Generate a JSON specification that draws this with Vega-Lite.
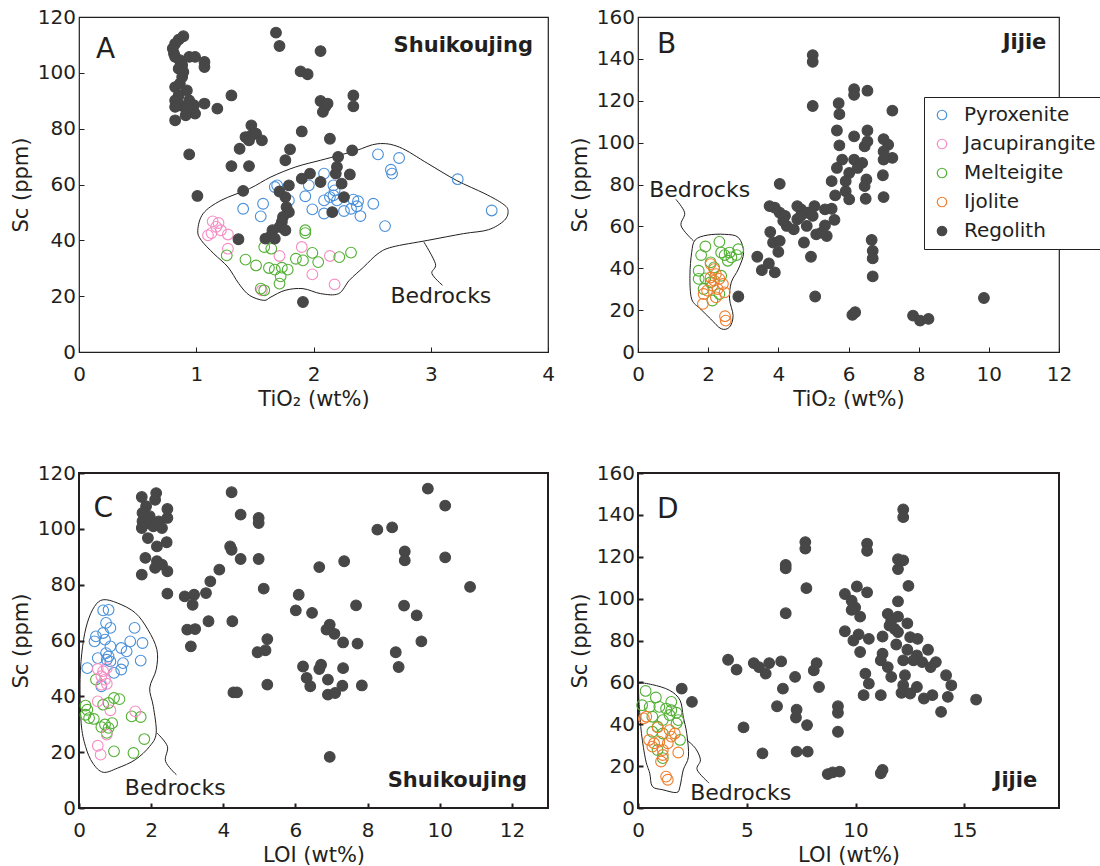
{
"$schema": "https://vega.github.io/schema/vega-lite/v6.json",
"autosize": {"type": "pad"},
"padding": {"left": 9, "top": 6, "right": 0, "bottom": 0},
"background": "white",
"datasets": {
"pts": [
{"p":"A","rock":"Pyroxenite","x":2.55,"y":70.8},{"p":"A","rock":"Pyroxenite","x":2.73,"y":69.5},{"p":"A","rock":"Pyroxenite","x":2.66,"y":65.3},{"p":"A","rock":"Pyroxenite","x":2.67,"y":63.9},{"p":"A","rock":"Pyroxenite","x":3.23,"y":61.9},{"p":"A","rock":"Pyroxenite","x":3.52,"y":50.7},{"p":"A","rock":"Pyroxenite","x":2.61,"y":45.1},{"p":"A","rock":"Pyroxenite","x":2.51,"y":53.1},{"p":"A","rock":"Pyroxenite","x":2.40,"y":48.7},{"p":"A","rock":"Pyroxenite","x":2.38,"y":54.0},{"p":"A","rock":"Pyroxenite","x":2.34,"y":54.6},{"p":"A","rock":"Pyroxenite","x":2.32,"y":51.3},{"p":"A","rock":"Pyroxenite","x":2.26,"y":50.5},{"p":"A","rock":"Pyroxenite","x":2.20,"y":54.3},{"p":"A","rock":"Pyroxenite","x":2.17,"y":56.1},{"p":"A","rock":"Pyroxenite","x":2.18,"y":57.9},{"p":"A","rock":"Pyroxenite","x":2.17,"y":59.7},{"p":"A","rock":"Pyroxenite","x":2.14,"y":55.5},{"p":"A","rock":"Pyroxenite","x":2.09,"y":54.3},{"p":"A","rock":"Pyroxenite","x":2.09,"y":49.6},{"p":"A","rock":"Pyroxenite","x":2.09,"y":63.9},{"p":"A","rock":"Pyroxenite","x":1.99,"y":51.1},{"p":"A","rock":"Pyroxenite","x":1.93,"y":55.8},{"p":"A","rock":"Pyroxenite","x":1.96,"y":59.7},{"p":"A","rock":"Pyroxenite","x":1.67,"y":59.1},{"p":"A","rock":"Pyroxenite","x":1.69,"y":59.7},{"p":"A","rock":"Pyroxenite","x":1.57,"y":53.1},{"p":"A","rock":"Pyroxenite","x":1.55,"y":48.6},{"p":"A","rock":"Pyroxenite","x":1.40,"y":51.3},{"p":"A","rock":"Pyroxenite","x":1.79,"y":54.3},{"p":"A","rock":"Pyroxenite","x":2.37,"y":52.2},
{"p":"A","rock":"Jacupirangite","x":1.14,"y":46.8},{"p":"A","rock":"Jacupirangite","x":1.19,"y":46.2},{"p":"A","rock":"Jacupirangite","x":1.17,"y":44.8},{"p":"A","rock":"Jacupirangite","x":1.21,"y":43.6},{"p":"A","rock":"Jacupirangite","x":1.13,"y":42.6},{"p":"A","rock":"Jacupirangite","x":1.10,"y":41.8},{"p":"A","rock":"Jacupirangite","x":1.27,"y":42.1},{"p":"A","rock":"Jacupirangite","x":1.27,"y":37.0},{"p":"A","rock":"Jacupirangite","x":1.71,"y":34.4},{"p":"A","rock":"Jacupirangite","x":1.90,"y":37.6},{"p":"A","rock":"Jacupirangite","x":2.14,"y":34.4},{"p":"A","rock":"Jacupirangite","x":1.99,"y":27.8},{"p":"A","rock":"Jacupirangite","x":2.18,"y":24.2},{"p":"A","rock":"Jacupirangite","x":1.56,"y":22.1},
{"p":"A","rock":"Melteigite","x":1.26,"y":34.6},{"p":"A","rock":"Melteigite","x":1.42,"y":33.1},{"p":"A","rock":"Melteigite","x":1.51,"y":31.0},{"p":"A","rock":"Melteigite","x":1.58,"y":37.6},{"p":"A","rock":"Melteigite","x":1.64,"y":37.0},{"p":"A","rock":"Melteigite","x":1.62,"y":30.1},{"p":"A","rock":"Melteigite","x":1.67,"y":29.5},{"p":"A","rock":"Melteigite","x":1.73,"y":30.2},{"p":"A","rock":"Melteigite","x":1.78,"y":29.5},{"p":"A","rock":"Melteigite","x":1.72,"y":27.1},{"p":"A","rock":"Melteigite","x":1.71,"y":24.5},{"p":"A","rock":"Melteigite","x":1.85,"y":33.4},{"p":"A","rock":"Melteigite","x":1.91,"y":32.8},{"p":"A","rock":"Melteigite","x":1.93,"y":43.6},{"p":"A","rock":"Melteigite","x":1.93,"y":42.6},{"p":"A","rock":"Melteigite","x":1.99,"y":35.5},{"p":"A","rock":"Melteigite","x":2.04,"y":32.2},{"p":"A","rock":"Melteigite","x":2.22,"y":34.0},{"p":"A","rock":"Melteigite","x":2.32,"y":35.6},{"p":"A","rock":"Melteigite","x":1.55,"y":22.7},{"p":"A","rock":"Melteigite","x":1.58,"y":22.1},
{"p":"A","rock":"Regolith","x":0.89,"y":113.1},{"p":"A","rock":"Regolith","x":0.85,"y":111.9},{"p":"A","rock":"Regolith","x":0.82,"y":110.4},{"p":"A","rock":"Regolith","x":0.80,"y":108.7},{"p":"A","rock":"Regolith","x":0.81,"y":106.9},{"p":"A","rock":"Regolith","x":0.82,"y":105.7},{"p":"A","rock":"Regolith","x":0.86,"y":104.5},{"p":"A","rock":"Regolith","x":0.88,"y":102.7},{"p":"A","rock":"Regolith","x":0.85,"y":101.5},{"p":"A","rock":"Regolith","x":0.89,"y":100.3},{"p":"A","rock":"Regolith","x":0.94,"y":105.7},{"p":"A","rock":"Regolith","x":0.99,"y":105.7},{"p":"A","rock":"Regolith","x":1.07,"y":103.9},{"p":"A","rock":"Regolith","x":1.07,"y":102.1},{"p":"A","rock":"Regolith","x":0.82,"y":94.9},{"p":"A","rock":"Regolith","x":0.92,"y":93.7},{"p":"A","rock":"Regolith","x":0.85,"y":91.9},{"p":"A","rock":"Regolith","x":0.82,"y":90.1},{"p":"A","rock":"Regolith","x":0.86,"y":88.4},{"p":"A","rock":"Regolith","x":0.91,"y":87.2},{"p":"A","rock":"Regolith","x":0.82,"y":87.8},{"p":"A","rock":"Regolith","x":0.98,"y":88.4},{"p":"A","rock":"Regolith","x":1.07,"y":89.0},{"p":"A","rock":"Regolith","x":0.99,"y":85.4},{"p":"A","rock":"Regolith","x":0.91,"y":84.8},{"p":"A","rock":"Regolith","x":0.82,"y":83.0},{"p":"A","rock":"Regolith","x":0.86,"y":96.1},{"p":"A","rock":"Regolith","x":0.88,"y":98.5},{"p":"A","rock":"Regolith","x":0.94,"y":90.1},{"p":"A","rock":"Regolith","x":1.18,"y":87.2},{"p":"A","rock":"Regolith","x":1.30,"y":91.9},{"p":"A","rock":"Regolith","x":0.94,"y":70.8},{"p":"A","rock":"Regolith","x":1.01,"y":55.9},{"p":"A","rock":"Regolith","x":1.68,"y":114.4},{"p":"A","rock":"Regolith","x":1.71,"y":109.6},{"p":"A","rock":"Regolith","x":2.06,"y":107.8},{"p":"A","rock":"Regolith","x":1.89,"y":100.5},{"p":"A","rock":"Regolith","x":1.95,"y":99.5},{"p":"A","rock":"Regolith","x":2.06,"y":89.9},{"p":"A","rock":"Regolith","x":2.10,"y":87.8},{"p":"A","rock":"Regolith","x":2.12,"y":89.0},{"p":"A","rock":"Regolith","x":2.08,"y":86.0},{"p":"A","rock":"Regolith","x":2.34,"y":91.9},{"p":"A","rock":"Regolith","x":2.34,"y":88.0},{"p":"A","rock":"Regolith","x":1.47,"y":81.2},{"p":"A","rock":"Regolith","x":1.42,"y":77.0},{"p":"A","rock":"Regolith","x":1.47,"y":77.6},{"p":"A","rock":"Regolith","x":1.51,"y":78.2},{"p":"A","rock":"Regolith","x":1.56,"y":75.8},{"p":"A","rock":"Regolith","x":1.45,"y":75.8},{"p":"A","rock":"Regolith","x":1.37,"y":72.8},{"p":"A","rock":"Regolith","x":1.30,"y":66.6},{"p":"A","rock":"Regolith","x":1.45,"y":66.6},{"p":"A","rock":"Regolith","x":1.40,"y":57.7},{"p":"A","rock":"Regolith","x":1.36,"y":40.4},{"p":"A","rock":"Regolith","x":1.90,"y":79.0},{"p":"A","rock":"Regolith","x":1.80,"y":72.6},{"p":"A","rock":"Regolith","x":1.76,"y":68.7},{"p":"A","rock":"Regolith","x":2.14,"y":76.4},{"p":"A","rock":"Regolith","x":2.33,"y":72.2},{"p":"A","rock":"Regolith","x":2.21,"y":69.9},{"p":"A","rock":"Regolith","x":2.20,"y":66.3},{"p":"A","rock":"Regolith","x":2.31,"y":63.6},{"p":"A","rock":"Regolith","x":2.19,"y":63.9},{"p":"A","rock":"Regolith","x":2.06,"y":60.9},{"p":"A","rock":"Regolith","x":1.97,"y":63.9},{"p":"A","rock":"Regolith","x":1.90,"y":62.1},{"p":"A","rock":"Regolith","x":2.24,"y":60.3},{"p":"A","rock":"Regolith","x":2.26,"y":55.5},{"p":"A","rock":"Regolith","x":2.16,"y":50.1},{"p":"A","rock":"Regolith","x":1.91,"y":17.9},{"p":"A","rock":"Regolith","x":1.79,"y":59.7},{"p":"A","rock":"Regolith","x":1.76,"y":55.5},{"p":"A","rock":"Regolith","x":1.77,"y":51.9},{"p":"A","rock":"Regolith","x":1.79,"y":50.1},{"p":"A","rock":"Regolith","x":1.74,"y":48.4},{"p":"A","rock":"Regolith","x":1.73,"y":46.6},{"p":"A","rock":"Regolith","x":1.71,"y":44.8},{"p":"A","rock":"Regolith","x":1.65,"y":43.6},{"p":"A","rock":"Regolith","x":1.64,"y":41.8},{"p":"A","rock":"Regolith","x":1.59,"y":40.6},{"p":"A","rock":"Regolith","x":1.67,"y":40.6},{"p":"A","rock":"Regolith","x":1.76,"y":43.6},{"p":"A","rock":"Regolith","x":1.71,"y":57.5},
{"p":"B","rock":"Melteigite","x":2.32,"y":52.6},{"p":"B","rock":"Melteigite","x":1.92,"y":50.4},{"p":"B","rock":"Melteigite","x":1.80,"y":46.3},{"p":"B","rock":"Melteigite","x":2.37,"y":47.5},{"p":"B","rock":"Melteigite","x":2.47,"y":46.3},{"p":"B","rock":"Melteigite","x":2.61,"y":47.5},{"p":"B","rock":"Melteigite","x":2.66,"y":45.2},{"p":"B","rock":"Melteigite","x":2.81,"y":46.3},{"p":"B","rock":"Melteigite","x":2.86,"y":49.1},{"p":"B","rock":"Melteigite","x":2.56,"y":43.6},{"p":"B","rock":"Melteigite","x":1.73,"y":38.8},{"p":"B","rock":"Melteigite","x":2.07,"y":42.8},{"p":"B","rock":"Melteigite","x":1.73,"y":34.9},{"p":"B","rock":"Melteigite","x":1.92,"y":35.2},{"p":"B","rock":"Melteigite","x":2.17,"y":40.4},{"p":"B","rock":"Melteigite","x":1.87,"y":30.1},{"p":"B","rock":"Melteigite","x":2.12,"y":24.6},{"p":"B","rock":"Melteigite","x":2.32,"y":27.7},{"p":"B","rock":"Melteigite","x":2.07,"y":33.3},{"p":"B","rock":"Melteigite","x":2.37,"y":36.4},
{"p":"B","rock":"Ijolite","x":2.07,"y":42.0},{"p":"B","rock":"Ijolite","x":2.17,"y":39.6},{"p":"B","rock":"Ijolite","x":2.22,"y":37.2},{"p":"B","rock":"Ijolite","x":2.07,"y":35.6},{"p":"B","rock":"Ijolite","x":2.32,"y":34.9},{"p":"B","rock":"Ijolite","x":2.42,"y":32.5},{"p":"B","rock":"Ijolite","x":2.12,"y":31.7},{"p":"B","rock":"Ijolite","x":1.97,"y":29.3},{"p":"B","rock":"Ijolite","x":2.27,"y":30.1},{"p":"B","rock":"Ijolite","x":2.47,"y":28.5},{"p":"B","rock":"Ijolite","x":1.87,"y":27.7},{"p":"B","rock":"Ijolite","x":1.85,"y":23.0},{"p":"B","rock":"Ijolite","x":2.22,"y":26.1},{"p":"B","rock":"Ijolite","x":2.48,"y":17.1},{"p":"B","rock":"Ijolite","x":2.50,"y":15.0},{"p":"B","rock":"Ijolite","x":2.17,"y":34.1},
{"p":"B","rock":"Regolith","x":4.98,"y":141.8},{"p":"B","rock":"Regolith","x":4.98,"y":138.6},{"p":"B","rock":"Regolith","x":4.98,"y":117.5},{"p":"B","rock":"Regolith","x":6.16,"y":125.5},{"p":"B","rock":"Regolith","x":6.16,"y":122.8},{"p":"B","rock":"Regolith","x":6.54,"y":124.8},{"p":"B","rock":"Regolith","x":5.72,"y":118.8},{"p":"B","rock":"Regolith","x":5.74,"y":113.6},{"p":"B","rock":"Regolith","x":7.25,"y":115.3},{"p":"B","rock":"Regolith","x":5.67,"y":105.8},{"p":"B","rock":"Regolith","x":5.74,"y":98.7},{"p":"B","rock":"Regolith","x":6.16,"y":103.0},{"p":"B","rock":"Regolith","x":6.54,"y":105.8},{"p":"B","rock":"Regolith","x":6.46,"y":98.2},{"p":"B","rock":"Regolith","x":6.54,"y":100.6},{"p":"B","rock":"Regolith","x":7.00,"y":101.7},{"p":"B","rock":"Regolith","x":7.13,"y":99.0},{"p":"B","rock":"Regolith","x":7.00,"y":95.8},{"p":"B","rock":"Regolith","x":7.25,"y":92.7},{"p":"B","rock":"Regolith","x":7.00,"y":91.9},{"p":"B","rock":"Regolith","x":6.98,"y":84.4},{"p":"B","rock":"Regolith","x":7.00,"y":74.0},{"p":"B","rock":"Regolith","x":5.82,"y":91.9},{"p":"B","rock":"Regolith","x":5.67,"y":87.9},{"p":"B","rock":"Regolith","x":6.02,"y":85.5},{"p":"B","rock":"Regolith","x":6.16,"y":91.9},{"p":"B","rock":"Regolith","x":6.39,"y":90.3},{"p":"B","rock":"Regolith","x":6.26,"y":87.9},{"p":"B","rock":"Regolith","x":6.51,"y":82.4},{"p":"B","rock":"Regolith","x":6.46,"y":79.2},{"p":"B","rock":"Regolith","x":6.49,"y":73.2},{"p":"B","rock":"Regolith","x":5.52,"y":81.6},{"p":"B","rock":"Regolith","x":5.92,"y":81.6},{"p":"B","rock":"Regolith","x":5.92,"y":76.8},{"p":"B","rock":"Regolith","x":6.02,"y":72.9},{"p":"B","rock":"Regolith","x":5.62,"y":74.8},{"p":"B","rock":"Regolith","x":5.52,"y":68.4},{"p":"B","rock":"Regolith","x":5.60,"y":63.1},{"p":"B","rock":"Regolith","x":5.33,"y":60.5},{"p":"B","rock":"Regolith","x":5.38,"y":55.4},{"p":"B","rock":"Regolith","x":5.08,"y":56.2},{"p":"B","rock":"Regolith","x":5.03,"y":69.7},{"p":"B","rock":"Regolith","x":4.84,"y":66.5},{"p":"B","rock":"Regolith","x":4.65,"y":68.1},{"p":"B","rock":"Regolith","x":4.54,"y":63.4},{"p":"B","rock":"Regolith","x":4.81,"y":60.2},{"p":"B","rock":"Regolith","x":4.73,"y":52.3},{"p":"B","rock":"Regolith","x":4.93,"y":45.5},{"p":"B","rock":"Regolith","x":5.05,"y":26.5},{"p":"B","rock":"Regolith","x":4.44,"y":58.6},{"p":"B","rock":"Regolith","x":4.24,"y":60.2},{"p":"B","rock":"Regolith","x":4.14,"y":62.6},{"p":"B","rock":"Regolith","x":4.04,"y":66.5},{"p":"B","rock":"Regolith","x":3.90,"y":68.9},{"p":"B","rock":"Regolith","x":3.75,"y":69.7},{"p":"B","rock":"Regolith","x":4.19,"y":65.0},{"p":"B","rock":"Regolith","x":4.04,"y":80.3},{"p":"B","rock":"Regolith","x":3.77,"y":57.3},{"p":"B","rock":"Regolith","x":3.85,"y":52.3},{"p":"B","rock":"Regolith","x":4.04,"y":53.1},{"p":"B","rock":"Regolith","x":4.00,"y":47.8},{"p":"B","rock":"Regolith","x":3.40,"y":45.5},{"p":"B","rock":"Regolith","x":3.73,"y":42.3},{"p":"B","rock":"Regolith","x":3.53,"y":39.1},{"p":"B","rock":"Regolith","x":3.90,"y":38.0},{"p":"B","rock":"Regolith","x":2.86,"y":26.5},{"p":"B","rock":"Regolith","x":6.11,"y":17.7},{"p":"B","rock":"Regolith","x":6.19,"y":19.0},{"p":"B","rock":"Regolith","x":6.66,"y":53.5},{"p":"B","rock":"Regolith","x":6.69,"y":48.3},{"p":"B","rock":"Regolith","x":6.69,"y":44.7},{"p":"B","rock":"Regolith","x":6.69,"y":36.1},{"p":"B","rock":"Regolith","x":7.84,"y":17.4},{"p":"B","rock":"Regolith","x":8.04,"y":15.0},{"p":"B","rock":"Regolith","x":8.28,"y":15.8},{"p":"B","rock":"Regolith","x":9.86,"y":25.8},{"p":"B","rock":"Regolith","x":5.23,"y":57.0},{"p":"B","rock":"Regolith","x":4.64,"y":65.0},{"p":"B","rock":"Regolith","x":4.98,"y":65.0},{"p":"B","rock":"Regolith","x":5.33,"y":68.1},{"p":"B","rock":"Regolith","x":4.54,"y":69.7},
{"p":"C","rock":"Pyroxenite","x":0.67,"y":70.8},{"p":"C","rock":"Pyroxenite","x":0.82,"y":71.0},{"p":"C","rock":"Pyroxenite","x":0.75,"y":66.3},{"p":"C","rock":"Pyroxenite","x":0.87,"y":64.5},{"p":"C","rock":"Pyroxenite","x":0.67,"y":62.7},{"p":"C","rock":"Pyroxenite","x":0.47,"y":61.5},{"p":"C","rock":"Pyroxenite","x":0.43,"y":59.7},{"p":"C","rock":"Pyroxenite","x":0.72,"y":60.3},{"p":"C","rock":"Pyroxenite","x":0.87,"y":57.9},{"p":"C","rock":"Pyroxenite","x":0.52,"y":53.7},{"p":"C","rock":"Pyroxenite","x":0.75,"y":55.5},{"p":"C","rock":"Pyroxenite","x":0.82,"y":54.3},{"p":"C","rock":"Pyroxenite","x":0.77,"y":53.1},{"p":"C","rock":"Pyroxenite","x":0.87,"y":52.5},{"p":"C","rock":"Pyroxenite","x":0.23,"y":50.1},{"p":"C","rock":"Pyroxenite","x":1.17,"y":57.3},{"p":"C","rock":"Pyroxenite","x":1.32,"y":56.1},{"p":"C","rock":"Pyroxenite","x":1.42,"y":59.7},{"p":"C","rock":"Pyroxenite","x":1.54,"y":64.5},{"p":"C","rock":"Pyroxenite","x":1.76,"y":59.1},{"p":"C","rock":"Pyroxenite","x":1.71,"y":52.8},{"p":"C","rock":"Pyroxenite","x":1.22,"y":51.9},{"p":"C","rock":"Pyroxenite","x":1.17,"y":49.6},{"p":"C","rock":"Pyroxenite","x":0.97,"y":48.4},{"p":"C","rock":"Pyroxenite","x":0.62,"y":43.6},
{"p":"C","rock":"Melteigite","x":0.18,"y":36.7},{"p":"C","rock":"Melteigite","x":0.23,"y":35.2},{"p":"C","rock":"Melteigite","x":0.18,"y":33.4},{"p":"C","rock":"Melteigite","x":0.28,"y":32.2},{"p":"C","rock":"Melteigite","x":0.41,"y":31.9},{"p":"C","rock":"Melteigite","x":0.67,"y":37.0},{"p":"C","rock":"Melteigite","x":0.97,"y":39.4},{"p":"C","rock":"Melteigite","x":1.12,"y":39.0},{"p":"C","rock":"Melteigite","x":0.82,"y":37.6},{"p":"C","rock":"Melteigite","x":0.72,"y":29.9},{"p":"C","rock":"Melteigite","x":0.82,"y":28.7},{"p":"C","rock":"Melteigite","x":0.62,"y":29.0},{"p":"C","rock":"Melteigite","x":0.92,"y":30.4},{"p":"C","rock":"Melteigite","x":1.46,"y":32.8},{"p":"C","rock":"Melteigite","x":1.71,"y":32.6},{"p":"C","rock":"Melteigite","x":1.81,"y":24.7},{"p":"C","rock":"Melteigite","x":0.97,"y":20.3},{"p":"C","rock":"Melteigite","x":1.51,"y":19.7},{"p":"C","rock":"Melteigite","x":0.47,"y":46.0},{"p":"C","rock":"Melteigite","x":0.77,"y":26.9},
{"p":"C","rock":"Jacupirangite","x":0.52,"y":49.8},{"p":"C","rock":"Jacupirangite","x":0.67,"y":49.0},{"p":"C","rock":"Jacupirangite","x":0.77,"y":50.1},{"p":"C","rock":"Jacupirangite","x":0.62,"y":47.2},{"p":"C","rock":"Jacupirangite","x":0.72,"y":46.0},{"p":"C","rock":"Jacupirangite","x":0.77,"y":44.5},{"p":"C","rock":"Jacupirangite","x":0.62,"y":44.2},{"p":"C","rock":"Jacupirangite","x":0.52,"y":38.2},{"p":"C","rock":"Jacupirangite","x":0.87,"y":35.0},{"p":"C","rock":"Jacupirangite","x":1.56,"y":34.6},{"p":"C","rock":"Jacupirangite","x":0.77,"y":26.3},{"p":"C","rock":"Jacupirangite","x":0.52,"y":22.3},{"p":"C","rock":"Jacupirangite","x":0.60,"y":19.1},
{"p":"C","rock":"Regolith","x":1.74,"y":111.4},{"p":"C","rock":"Regolith","x":2.14,"y":112.8},{"p":"C","rock":"Regolith","x":2.11,"y":110.4},{"p":"C","rock":"Regolith","x":1.86,"y":108.1},{"p":"C","rock":"Regolith","x":1.76,"y":105.7},{"p":"C","rock":"Regolith","x":1.96,"y":104.5},{"p":"C","rock":"Regolith","x":1.76,"y":102.7},{"p":"C","rock":"Regolith","x":1.91,"y":102.1},{"p":"C","rock":"Regolith","x":1.74,"y":100.3},{"p":"C","rock":"Regolith","x":2.06,"y":100.9},{"p":"C","rock":"Regolith","x":2.21,"y":102.7},{"p":"C","rock":"Regolith","x":2.45,"y":107.1},{"p":"C","rock":"Regolith","x":2.45,"y":103.9},{"p":"C","rock":"Regolith","x":2.30,"y":100.3},{"p":"C","rock":"Regolith","x":1.91,"y":96.7},{"p":"C","rock":"Regolith","x":2.16,"y":93.7},{"p":"C","rock":"Regolith","x":2.43,"y":95.2},{"p":"C","rock":"Regolith","x":1.84,"y":89.6},{"p":"C","rock":"Regolith","x":2.16,"y":88.4},{"p":"C","rock":"Regolith","x":2.30,"y":87.2},{"p":"C","rock":"Regolith","x":2.11,"y":86.0},{"p":"C","rock":"Regolith","x":2.45,"y":84.8},{"p":"C","rock":"Regolith","x":1.74,"y":83.6},{"p":"C","rock":"Regolith","x":2.45,"y":76.8},{"p":"C","rock":"Regolith","x":2.93,"y":75.8},{"p":"C","rock":"Regolith","x":3.19,"y":76.4},{"p":"C","rock":"Regolith","x":3.15,"y":72.8},{"p":"C","rock":"Regolith","x":3.52,"y":77.0},{"p":"C","rock":"Regolith","x":3.64,"y":81.2},{"p":"C","rock":"Regolith","x":3.89,"y":85.4},{"p":"C","rock":"Regolith","x":3.00,"y":63.9},{"p":"C","rock":"Regolith","x":3.22,"y":64.1},{"p":"C","rock":"Regolith","x":3.10,"y":57.9},{"p":"C","rock":"Regolith","x":3.59,"y":66.9},{"p":"C","rock":"Regolith","x":4.23,"y":113.1},{"p":"C","rock":"Regolith","x":4.48,"y":105.1},{"p":"C","rock":"Regolith","x":4.19,"y":93.7},{"p":"C","rock":"Regolith","x":4.23,"y":92.5},{"p":"C","rock":"Regolith","x":4.48,"y":89.2},{"p":"C","rock":"Regolith","x":4.98,"y":103.9},{"p":"C","rock":"Regolith","x":4.98,"y":102.1},{"p":"C","rock":"Regolith","x":4.98,"y":89.2},{"p":"C","rock":"Regolith","x":5.12,"y":78.6},{"p":"C","rock":"Regolith","x":4.25,"y":66.9},{"p":"C","rock":"Regolith","x":4.28,"y":41.4},{"p":"C","rock":"Regolith","x":4.38,"y":41.4},{"p":"C","rock":"Regolith","x":4.95,"y":55.8},{"p":"C","rock":"Regolith","x":5.17,"y":56.5},{"p":"C","rock":"Regolith","x":5.22,"y":60.5},{"p":"C","rock":"Regolith","x":5.22,"y":44.2},{"p":"C","rock":"Regolith","x":6.09,"y":76.4},{"p":"C","rock":"Regolith","x":6.01,"y":70.8},{"p":"C","rock":"Regolith","x":6.46,"y":69.9},{"p":"C","rock":"Regolith","x":6.66,"y":86.3},{"p":"C","rock":"Regolith","x":6.21,"y":50.7},{"p":"C","rock":"Regolith","x":6.31,"y":46.6},{"p":"C","rock":"Regolith","x":6.41,"y":43.6},{"p":"C","rock":"Regolith","x":6.66,"y":49.8},{"p":"C","rock":"Regolith","x":6.71,"y":51.3},{"p":"C","rock":"Regolith","x":6.90,"y":46.0},{"p":"C","rock":"Regolith","x":6.90,"y":40.6},{"p":"C","rock":"Regolith","x":7.10,"y":41.2},{"p":"C","rock":"Regolith","x":6.95,"y":65.7},{"p":"C","rock":"Regolith","x":6.86,"y":63.9},{"p":"C","rock":"Regolith","x":7.08,"y":62.4},{"p":"C","rock":"Regolith","x":7.32,"y":59.3},{"p":"C","rock":"Regolith","x":7.32,"y":50.1},{"p":"C","rock":"Regolith","x":7.30,"y":43.8},{"p":"C","rock":"Regolith","x":6.95,"y":18.3},{"p":"C","rock":"Regolith","x":7.35,"y":88.4},{"p":"C","rock":"Regolith","x":7.68,"y":72.6},{"p":"C","rock":"Regolith","x":7.72,"y":58.9},{"p":"C","rock":"Regolith","x":7.84,"y":43.9},{"p":"C","rock":"Regolith","x":8.27,"y":99.7},{"p":"C","rock":"Regolith","x":8.68,"y":100.5},{"p":"C","rock":"Regolith","x":9.03,"y":91.9},{"p":"C","rock":"Regolith","x":9.03,"y":88.7},{"p":"C","rock":"Regolith","x":9.01,"y":72.5},{"p":"C","rock":"Regolith","x":9.36,"y":69.0},{"p":"C","rock":"Regolith","x":9.49,"y":59.7},{"p":"C","rock":"Regolith","x":8.78,"y":55.8},{"p":"C","rock":"Regolith","x":8.86,"y":50.5},{"p":"C","rock":"Regolith","x":9.67,"y":114.4},{"p":"C","rock":"Regolith","x":10.15,"y":108.3},{"p":"C","rock":"Regolith","x":10.15,"y":89.8},{"p":"C","rock":"Regolith","x":10.84,"y":79.2},
{"p":"D","rock":"Melteigite","x":0.35,"y":55.9},{"p":"D","rock":"Melteigite","x":0.82,"y":52.8},{"p":"D","rock":"Melteigite","x":1.53,"y":50.7},{"p":"D","rock":"Melteigite","x":0.19,"y":49.1},{"p":"D","rock":"Melteigite","x":0.54,"y":48.3},{"p":"D","rock":"Melteigite","x":0.98,"y":48.3},{"p":"D","rock":"Melteigite","x":1.29,"y":47.5},{"p":"D","rock":"Melteigite","x":1.53,"y":46.7},{"p":"D","rock":"Melteigite","x":1.77,"y":45.5},{"p":"D","rock":"Melteigite","x":1.85,"y":42.0},{"p":"D","rock":"Melteigite","x":1.77,"y":40.4},{"p":"D","rock":"Melteigite","x":0.66,"y":43.6},{"p":"D","rock":"Melteigite","x":1.14,"y":42.0},{"p":"D","rock":"Melteigite","x":0.90,"y":38.8},{"p":"D","rock":"Melteigite","x":0.66,"y":36.4},{"p":"D","rock":"Melteigite","x":1.14,"y":35.6},{"p":"D","rock":"Melteigite","x":1.93,"y":32.5},{"p":"D","rock":"Melteigite","x":0.90,"y":27.7},{"p":"D","rock":"Melteigite","x":1.14,"y":23.8},{"p":"D","rock":"Melteigite","x":1.45,"y":44.4},
{"p":"D","rock":"Ijolite","x":0.27,"y":42.8},{"p":"D","rock":"Ijolite","x":0.38,"y":43.6},{"p":"D","rock":"Ijolite","x":0.90,"y":38.5},{"p":"D","rock":"Ijolite","x":1.45,"y":37.2},{"p":"D","rock":"Ijolite","x":1.69,"y":35.6},{"p":"D","rock":"Ijolite","x":1.53,"y":34.1},{"p":"D","rock":"Ijolite","x":0.51,"y":32.5},{"p":"D","rock":"Ijolite","x":0.74,"y":30.9},{"p":"D","rock":"Ijolite","x":0.98,"y":31.7},{"p":"D","rock":"Ijolite","x":0.66,"y":29.3},{"p":"D","rock":"Ijolite","x":1.14,"y":27.7},{"p":"D","rock":"Ijolite","x":1.37,"y":30.9},{"p":"D","rock":"Ijolite","x":1.14,"y":25.3},{"p":"D","rock":"Ijolite","x":1.06,"y":22.2},{"p":"D","rock":"Ijolite","x":1.85,"y":26.5},{"p":"D","rock":"Ijolite","x":1.29,"y":15.0},{"p":"D","rock":"Ijolite","x":1.37,"y":13.5},
{"p":"D","rock":"Regolith","x":12.19,"y":142.6},{"p":"D","rock":"Regolith","x":12.19,"y":138.9},{"p":"D","rock":"Regolith","x":7.69,"y":127.0},{"p":"D","rock":"Regolith","x":7.69,"y":123.9},{"p":"D","rock":"Regolith","x":10.53,"y":126.3},{"p":"D","rock":"Regolith","x":10.53,"y":122.8},{"p":"D","rock":"Regolith","x":6.79,"y":116.1},{"p":"D","rock":"Regolith","x":6.79,"y":114.5},{"p":"D","rock":"Regolith","x":11.95,"y":118.8},{"p":"D","rock":"Regolith","x":12.19,"y":118.3},{"p":"D","rock":"Regolith","x":11.95,"y":114.1},{"p":"D","rock":"Regolith","x":12.43,"y":106.1},{"p":"D","rock":"Regolith","x":7.74,"y":105.0},{"p":"D","rock":"Regolith","x":10.06,"y":105.8},{"p":"D","rock":"Regolith","x":9.51,"y":102.2},{"p":"D","rock":"Regolith","x":10.53,"y":103.0},{"p":"D","rock":"Regolith","x":11.95,"y":98.7},{"p":"D","rock":"Regolith","x":9.82,"y":99.0},{"p":"D","rock":"Regolith","x":9.98,"y":95.8},{"p":"D","rock":"Regolith","x":9.82,"y":94.6},{"p":"D","rock":"Regolith","x":10.21,"y":91.4},{"p":"D","rock":"Regolith","x":6.79,"y":93.0},{"p":"D","rock":"Regolith","x":11.48,"y":92.7},{"p":"D","rock":"Regolith","x":11.64,"y":89.5},{"p":"D","rock":"Regolith","x":11.95,"y":91.4},{"p":"D","rock":"Regolith","x":12.38,"y":88.2},{"p":"D","rock":"Regolith","x":11.56,"y":87.1},{"p":"D","rock":"Regolith","x":11.80,"y":85.5},{"p":"D","rock":"Regolith","x":9.51,"y":84.4},{"p":"D","rock":"Regolith","x":10.14,"y":82.9},{"p":"D","rock":"Regolith","x":9.90,"y":80.0},{"p":"D","rock":"Regolith","x":10.61,"y":80.8},{"p":"D","rock":"Regolith","x":11.24,"y":81.9},{"p":"D","rock":"Regolith","x":11.95,"y":84.0},{"p":"D","rock":"Regolith","x":12.51,"y":81.6},{"p":"D","rock":"Regolith","x":12.85,"y":80.8},{"p":"D","rock":"Regolith","x":10.21,"y":74.5},{"p":"D","rock":"Regolith","x":11.24,"y":73.7},{"p":"D","rock":"Regolith","x":11.87,"y":78.1},{"p":"D","rock":"Regolith","x":12.38,"y":75.6},{"p":"D","rock":"Regolith","x":12.82,"y":72.9},{"p":"D","rock":"Regolith","x":13.33,"y":75.6},{"p":"D","rock":"Regolith","x":12.19,"y":70.5},{"p":"D","rock":"Regolith","x":12.66,"y":70.5},{"p":"D","rock":"Regolith","x":13.06,"y":69.7},{"p":"D","rock":"Regolith","x":13.69,"y":69.7},{"p":"D","rock":"Regolith","x":13.45,"y":67.3},{"p":"D","rock":"Regolith","x":11.16,"y":70.5},{"p":"D","rock":"Regolith","x":11.48,"y":67.3},{"p":"D","rock":"Regolith","x":11.64,"y":62.6},{"p":"D","rock":"Regolith","x":10.45,"y":64.2},{"p":"D","rock":"Regolith","x":10.61,"y":59.4},{"p":"D","rock":"Regolith","x":10.37,"y":53.9},{"p":"D","rock":"Regolith","x":11.16,"y":53.9},{"p":"D","rock":"Regolith","x":12.27,"y":63.4},{"p":"D","rock":"Regolith","x":12.19,"y":58.6},{"p":"D","rock":"Regolith","x":12.11,"y":55.0},{"p":"D","rock":"Regolith","x":12.51,"y":54.7},{"p":"D","rock":"Regolith","x":12.82,"y":57.8},{"p":"D","rock":"Regolith","x":13.14,"y":52.3},{"p":"D","rock":"Regolith","x":13.53,"y":53.9},{"p":"D","rock":"Regolith","x":14.16,"y":63.4},{"p":"D","rock":"Regolith","x":14.40,"y":58.6},{"p":"D","rock":"Regolith","x":14.24,"y":53.1},{"p":"D","rock":"Regolith","x":13.93,"y":45.9},{"p":"D","rock":"Regolith","x":15.54,"y":51.8},{"p":"D","rock":"Regolith","x":4.14,"y":70.8},{"p":"D","rock":"Regolith","x":4.53,"y":66.1},{"p":"D","rock":"Regolith","x":5.32,"y":69.2},{"p":"D","rock":"Regolith","x":5.56,"y":67.3},{"p":"D","rock":"Regolith","x":5.87,"y":64.2},{"p":"D","rock":"Regolith","x":6.03,"y":69.2},{"p":"D","rock":"Regolith","x":6.58,"y":70.0},{"p":"D","rock":"Regolith","x":7.22,"y":62.6},{"p":"D","rock":"Regolith","x":6.66,"y":57.0},{"p":"D","rock":"Regolith","x":8.08,"y":65.7},{"p":"D","rock":"Regolith","x":8.21,"y":69.2},{"p":"D","rock":"Regolith","x":8.32,"y":57.8},{"p":"D","rock":"Regolith","x":6.39,"y":48.6},{"p":"D","rock":"Regolith","x":7.29,"y":47.0},{"p":"D","rock":"Regolith","x":7.26,"y":43.2},{"p":"D","rock":"Regolith","x":7.77,"y":39.6},{"p":"D","rock":"Regolith","x":4.85,"y":38.5},{"p":"D","rock":"Regolith","x":5.72,"y":26.1},{"p":"D","rock":"Regolith","x":7.29,"y":26.9},{"p":"D","rock":"Regolith","x":7.80,"y":26.9},{"p":"D","rock":"Regolith","x":9.19,"y":48.6},{"p":"D","rock":"Regolith","x":9.19,"y":45.5},{"p":"D","rock":"Regolith","x":9.19,"y":36.4},{"p":"D","rock":"Regolith","x":8.72,"y":16.2},{"p":"D","rock":"Regolith","x":8.95,"y":17.0},{"p":"D","rock":"Regolith","x":9.27,"y":17.4},{"p":"D","rock":"Regolith","x":11.16,"y":16.6},{"p":"D","rock":"Regolith","x":11.24,"y":18.2},{"p":"D","rock":"Regolith","x":2.01,"y":57.0},{"p":"D","rock":"Regolith","x":2.48,"y":50.7}
],
"outline": [
{"p":"A","i":1,"x":1.013,"y":43.6},{"p":"A","i":2,"x":1.059,"y":49.6},{"p":"A","i":3,"x":1.211,"y":54.3},{"p":"A","i":4,"x":1.454,"y":58.5},{"p":"A","i":5,"x":1.637,"y":62.7},{"p":"A","i":6,"x":1.849,"y":66.3},{"p":"A","i":7,"x":2.062,"y":68.7},{"p":"A","i":8,"x":2.214,"y":70.4},{"p":"A","i":9,"x":2.367,"y":72.2},{"p":"A","i":10,"x":2.549,"y":74.6},{"p":"A","i":11,"x":2.732,"y":73.4},{"p":"A","i":12,"x":2.975,"y":67.5},{"p":"A","i":13,"x":3.218,"y":61.5},{"p":"A","i":14,"x":3.462,"y":56.7},{"p":"A","i":15,"x":3.614,"y":53.1},{"p":"A","i":16,"x":3.659,"y":50.7},{"p":"A","i":17,"x":3.629,"y":47.2},{"p":"A","i":18,"x":3.492,"y":43.8},{"p":"A","i":19,"x":3.279,"y":42.4},{"p":"A","i":20,"x":2.975,"y":40.0},{"p":"A","i":21,"x":2.671,"y":37.6},{"p":"A","i":22,"x":2.549,"y":35.2},{"p":"A","i":23,"x":2.427,"y":30.4},{"p":"A","i":24,"x":2.306,"y":25.7},{"p":"A","i":25,"x":2.214,"y":20.9},{"p":"A","i":26,"x":2.062,"y":20.9},{"p":"A","i":27,"x":1.910,"y":22.7},{"p":"A","i":28,"x":1.758,"y":22.1},{"p":"A","i":29,"x":1.637,"y":19.7},{"p":"A","i":30,"x":1.576,"y":18.5},{"p":"A","i":31,"x":1.454,"y":20.3},{"p":"A","i":32,"x":1.363,"y":24.5},{"p":"A","i":33,"x":1.271,"y":30.4},{"p":"A","i":34,"x":1.150,"y":35.2},{"p":"A","i":35,"x":1.043,"y":40.0},
{"p":"B","i":1,"x":2.47,"y":56.2},{"p":"B","i":2,"x":2.86,"y":54.7},{"p":"B","i":3,"x":3.01,"y":47.5},{"p":"B","i":4,"x":2.86,"y":39.6},{"p":"B","i":5,"x":2.66,"y":33.3},{"p":"B","i":6,"x":2.61,"y":25.3},{"p":"B","i":7,"x":2.71,"y":17.4},{"p":"B","i":8,"x":2.61,"y":11.9},{"p":"B","i":9,"x":2.37,"y":11.1},{"p":"B","i":10,"x":2.07,"y":15.8},{"p":"B","i":11,"x":1.78,"y":20.6},{"p":"B","i":12,"x":1.53,"y":25.3},{"p":"B","i":13,"x":1.48,"y":36.4},{"p":"B","i":14,"x":1.53,"y":47.5},{"p":"B","i":15,"x":1.63,"y":53.5},{"p":"B","i":16,"x":1.97,"y":55.8},
{"p":"C","i":1,"x":0.67,"y":74.6},{"p":"C","i":2,"x":1.07,"y":73.4},{"p":"C","i":3,"x":1.56,"y":69.9},{"p":"C","i":4,"x":1.91,"y":63.9},{"p":"C","i":5,"x":2.16,"y":56.7},{"p":"C","i":6,"x":2.14,"y":49.6},{"p":"C","i":7,"x":1.96,"y":43.0},{"p":"C","i":8,"x":2.06,"y":36.4},{"p":"C","i":9,"x":2.14,"y":26.9},{"p":"C","i":10,"x":1.96,"y":22.1},{"p":"C","i":11,"x":1.56,"y":17.3},{"p":"C","i":12,"x":1.07,"y":14.3},{"p":"C","i":13,"x":0.67,"y":12.8},{"p":"C","i":14,"x":0.38,"y":16.1},{"p":"C","i":15,"x":0.18,"y":22.1},{"p":"C","i":16,"x":0.06,"y":30.4},{"p":"C","i":17,"x":0.03,"y":46.0},{"p":"C","i":18,"x":0.10,"y":57.9},{"p":"C","i":19,"x":0.23,"y":66.3},{"p":"C","i":20,"x":0.43,"y":72.2},
{"p":"D","i":1,"x":0.03,"y":59.4},{"p":"D","i":2,"x":0.66,"y":58.9},{"p":"D","i":3,"x":1.45,"y":56.2},{"p":"D","i":4,"x":1.93,"y":51.5},{"p":"D","i":5,"x":2.08,"y":43.6},{"p":"D","i":6,"x":2.24,"y":35.6},{"p":"D","i":7,"x":2.32,"y":24.6},{"p":"D","i":8,"x":2.08,"y":18.2},{"p":"D","i":9,"x":1.93,"y":10.3},{"p":"D","i":10,"x":1.77,"y":7.4},{"p":"D","i":11,"x":1.14,"y":8.7},{"p":"D","i":12,"x":0.66,"y":10.3},{"p":"D","i":13,"x":0.54,"y":16.6},{"p":"D","i":14,"x":0.35,"y":23.0},{"p":"D","i":15,"x":0.16,"y":35.6},{"p":"D","i":16,"x":0.06,"y":48.3},{"p":"D","i":17,"x":0.03,"y":54.7}
],
"leader": [
{"p":"A","i":1,"x":2.94,"y":39.5},{"p":"A","i":2,"x":3.04,"y":31.6},{"p":"A","i":3,"x":3.01,"y":28.1},{"p":"A","i":4,"x":3.10,"y":23.9},
{"p":"B","i":1,"x":1.58,"y":53.1},{"p":"B","i":2,"x":1.23,"y":60.2},{"p":"B","i":3,"x":1.33,"y":66.5},{"p":"B","i":4,"x":1.08,"y":72.9},
{"p":"C","i":1,"x":2.16,"y":26.9},{"p":"C","i":2,"x":2.45,"y":22.1},{"p":"C","i":3,"x":2.40,"y":16.7},{"p":"C","i":4,"x":2.70,"y":11.9},
{"p":"D","i":1,"x":2.24,"y":32.5},{"p":"D","i":2,"x":2.64,"y":28.5},{"p":"D","i":3,"x":2.87,"y":23.0},{"p":"D","i":4,"x":2.72,"y":18.2},{"p":"D","i":5,"x":3.27,"y":11.9}
],
"labels": [
{"p":"A","kind":"letter","x":0.146,"y":105.4,"t":"A"},{"p":"A","kind":"site","x":3.872,"y":107.5,"t":"Shuikoujing"},{"p":"A","kind":"bed","x":2.656,"y":17.6,"t":"Bedrocks"},
{"p":"B","kind":"letter","x":0.54,"y":142.6,"t":"B"},{"p":"B","kind":"site","x":11.64,"y":144.5,"t":"Jijie"},{"p":"B","kind":"bed","x":0.32,"y":74.1,"t":"Bedrocks"},
{"p":"C","kind":"letter","x":0.40,"y":104.2,"t":"C"},{"p":"C","kind":"site","x":12.42,"y":7.4,"t":"Shuikoujing"},{"p":"C","kind":"bed","x":1.27,"y":4.8,"t":"Bedrocks"},
{"p":"D","kind":"letter","x":0.87,"y":138.6,"t":"D"},{"p":"D","kind":"site","x":18.35,"y":9.8,"t":"Jijie"},{"p":"D","kind":"bed","x":2.40,"y":4.0,"t":"Bedrocks"}
]
},
"columns": 2,
"spacing": {"column": 90, "row": 121},
"bounds": "flush",
"resolve": {"scale": {"stroke": "independent", "fill": "independent"}, "legend": {"stroke": "independent", "fill": "independent"}},
"concat": [
{
"width": 469, "height": 335,
"view": {"stroke": "#231f20", "strokeWidth": 1.2},
"encoding": {
"x": {"field": "x", "type": "quantitative", "scale": {"domain": [0, 4], "nice": false, "zero": false}, "axis": {"values": [0, 1, 2, 3, 4], "title": "TiO₂ (wt%)"}},
"y": {"field": "y", "type": "quantitative", "scale": {"domain": [0, 120], "nice": false, "zero": false}, "axis": {"values": [0, 20, 40, 60, 80, 100, 120], "title": "Sc (ppm)"}}
},
"layer": [
{"data": {"name": "outline"}, "transform": [{"filter": "datum.p == 'A'"}], "mark": {"type": "line", "interpolate": "cardinal-closed", "stroke": "#231f20", "strokeWidth": 1}, "encoding": {"order": {"field": "i", "type": "quantitative"}}},
{"data": {"name": "leader"}, "transform": [{"filter": "datum.p == 'A'"}], "mark": {"type": "line", "interpolate": "cardinal", "stroke": "#231f20", "strokeWidth": 1}, "encoding": {"order": {"field": "i", "type": "quantitative"}}},
{"data": {"name": "pts"}, "transform": [{"filter": "datum.p == 'A'"}], "mark": {"type": "point", "shape": "circle", "size": 115, "strokeWidth": 1.1, "opacity": 1},
 "encoding": {
  "stroke": {"field": "rock", "type": "nominal", "scale": {"domain": ["Pyroxenite", "Jacupirangite", "Melteigite", "Ijolite", "Regolith"], "range": ["#4a90d9", "#f58dc4", "#52b034", "#ef7d2d", "#474747"]}, "legend": null},
  "fill": {"field": "rock", "type": "nominal", "scale": {"domain": ["Pyroxenite", "Jacupirangite", "Melteigite", "Ijolite", "Regolith"], "range": ["transparent", "transparent", "transparent", "transparent", "#474747"]}, "legend": null}
 }},
{"data": {"name": "labels"}, "transform": [{"filter": "datum.p == 'A' && datum.kind == 'letter'"}], "mark": {"type": "text", "fontSize": 28, "align": "left", "baseline": "alphabetic", "color": "#231f20"}, "encoding": {"text": {"field": "t"}}},
{"data": {"name": "labels"}, "transform": [{"filter": "datum.p == 'A' && datum.kind == 'site'"}], "mark": {"type": "text", "fontSize": 21, "fontWeight": "bold", "align": "right", "baseline": "alphabetic", "color": "#231f20"}, "encoding": {"text": {"field": "t"}}},
{"data": {"name": "labels"}, "transform": [{"filter": "datum.p == 'A' && datum.kind == 'bed'"}], "mark": {"type": "text", "fontSize": 22, "align": "left", "baseline": "alphabetic", "color": "#231f20"}, "encoding": {"text": {"field": "t"}}}
]
},
{
"width": 421, "height": 335,
"view": {"stroke": "#231f20", "strokeWidth": 1.2},
"encoding": {
"x": {"field": "x", "type": "quantitative", "scale": {"domain": [0, 12], "nice": false, "zero": false}, "axis": {"values": [0, 2, 4, 6, 8, 10, 12], "title": "TiO₂ (wt%)"}},
"y": {"field": "y", "type": "quantitative", "scale": {"domain": [0, 160], "nice": false, "zero": false}, "axis": {"values": [0, 20, 40, 60, 80, 100, 120, 140, 160], "title": "Sc (ppm)"}}
},
"layer": [
{"data": {"name": "outline"}, "transform": [{"filter": "datum.p == 'B'"}], "mark": {"type": "line", "interpolate": "cardinal-closed", "stroke": "#231f20", "strokeWidth": 1}, "encoding": {"order": {"field": "i", "type": "quantitative"}}},
{"data": {"name": "leader"}, "transform": [{"filter": "datum.p == 'B'"}], "mark": {"type": "line", "interpolate": "cardinal", "stroke": "#231f20", "strokeWidth": 1}, "encoding": {"order": {"field": "i", "type": "quantitative"}}},
{"data": {"name": "pts"}, "transform": [{"filter": "datum.p == 'B'"}], "mark": {"type": "point", "shape": "circle", "size": 115, "strokeWidth": 1.1, "opacity": 1},
 "encoding": {
  "stroke": {"field": "rock", "type": "nominal", "scale": {"domain": ["Pyroxenite", "Jacupirangite", "Melteigite", "Ijolite", "Regolith"], "range": ["#4a90d9", "#f58dc4", "#52b034", "#ef7d2d", "#474747"]}, "legend": {"orient": "none", "legendX": 286, "legendY": 80, "title": null}},
  "fill": {"field": "rock", "type": "nominal", "scale": {"domain": ["Pyroxenite", "Jacupirangite", "Melteigite", "Ijolite", "Regolith"], "range": ["transparent", "transparent", "transparent", "transparent", "#474747"]}, "legend": {"orient": "none", "legendX": 286, "legendY": 80, "title": null}}
 }},
{"data": {"name": "labels"}, "transform": [{"filter": "datum.p == 'B' && datum.kind == 'letter'"}], "mark": {"type": "text", "fontSize": 28, "align": "left", "baseline": "alphabetic", "color": "#231f20"}, "encoding": {"text": {"field": "t"}}},
{"data": {"name": "labels"}, "transform": [{"filter": "datum.p == 'B' && datum.kind == 'site'"}], "mark": {"type": "text", "fontSize": 21, "fontWeight": "bold", "align": "right", "baseline": "alphabetic", "color": "#231f20"}, "encoding": {"text": {"field": "t"}}},
{"data": {"name": "labels"}, "transform": [{"filter": "datum.p == 'B' && datum.kind == 'bed'"}], "mark": {"type": "text", "fontSize": 22, "align": "left", "baseline": "alphabetic", "color": "#231f20"}, "encoding": {"text": {"field": "t"}}}
]
},
{
"width": 469, "height": 335,
"view": {"stroke": "#231f20", "strokeWidth": 2},
"encoding": {
"x": {"field": "x", "type": "quantitative", "scale": {"domain": [0, 13], "nice": false, "zero": false}, "axis": {"values": [0, 2, 4, 6, 8, 10, 12], "title": "LOI (wt%)", "tickWidth": 2}},
"y": {"field": "y", "type": "quantitative", "scale": {"domain": [0, 120], "nice": false, "zero": false}, "axis": {"values": [0, 20, 40, 60, 80, 100, 120], "title": "Sc (ppm)", "tickWidth": 2}}
},
"layer": [
{"data": {"name": "outline"}, "transform": [{"filter": "datum.p == 'C'"}], "mark": {"type": "line", "interpolate": "cardinal-closed", "stroke": "#231f20", "strokeWidth": 1}, "encoding": {"order": {"field": "i", "type": "quantitative"}}},
{"data": {"name": "leader"}, "transform": [{"filter": "datum.p == 'C'"}], "mark": {"type": "line", "interpolate": "cardinal", "stroke": "#231f20", "strokeWidth": 1}, "encoding": {"order": {"field": "i", "type": "quantitative"}}},
{"data": {"name": "pts"}, "transform": [{"filter": "datum.p == 'C'"}], "mark": {"type": "point", "shape": "circle", "size": 115, "strokeWidth": 1.1, "opacity": 1},
 "encoding": {
  "stroke": {"field": "rock", "type": "nominal", "scale": {"domain": ["Pyroxenite", "Jacupirangite", "Melteigite", "Ijolite", "Regolith"], "range": ["#4a90d9", "#f58dc4", "#52b034", "#ef7d2d", "#474747"]}, "legend": null},
  "fill": {"field": "rock", "type": "nominal", "scale": {"domain": ["Pyroxenite", "Jacupirangite", "Melteigite", "Ijolite", "Regolith"], "range": ["transparent", "transparent", "transparent", "transparent", "#474747"]}, "legend": null}
 }},
{"data": {"name": "labels"}, "transform": [{"filter": "datum.p == 'C' && datum.kind == 'letter'"}], "mark": {"type": "text", "fontSize": 28, "align": "left", "baseline": "alphabetic", "color": "#231f20"}, "encoding": {"text": {"field": "t"}}},
{"data": {"name": "labels"}, "transform": [{"filter": "datum.p == 'C' && datum.kind == 'site'"}], "mark": {"type": "text", "fontSize": 21, "fontWeight": "bold", "align": "right", "baseline": "alphabetic", "color": "#231f20"}, "encoding": {"text": {"field": "t"}}},
{"data": {"name": "labels"}, "transform": [{"filter": "datum.p == 'C' && datum.kind == 'bed'"}], "mark": {"type": "text", "fontSize": 22, "align": "left", "baseline": "alphabetic", "color": "#231f20"}, "encoding": {"text": {"field": "t"}}}
]
},
{
"width": 421, "height": 335,
"view": {"stroke": "#231f20", "strokeWidth": 2},
"encoding": {
"x": {"field": "x", "type": "quantitative", "scale": {"domain": [0, 19.35], "nice": false, "zero": false}, "axis": {"values": [0, 5, 10, 15], "title": "LOI (wt%)", "tickWidth": 2}},
"y": {"field": "y", "type": "quantitative", "scale": {"domain": [0, 160], "nice": false, "zero": false}, "axis": {"values": [0, 20, 40, 60, 80, 100, 120, 140, 160], "title": "Sc (ppm)", "tickWidth": 2}}
},
"layer": [
{"data": {"name": "outline"}, "transform": [{"filter": "datum.p == 'D'"}], "mark": {"type": "line", "interpolate": "cardinal-closed", "stroke": "#231f20", "strokeWidth": 1}, "encoding": {"order": {"field": "i", "type": "quantitative"}}},
{"data": {"name": "leader"}, "transform": [{"filter": "datum.p == 'D'"}], "mark": {"type": "line", "interpolate": "cardinal", "stroke": "#231f20", "strokeWidth": 1}, "encoding": {"order": {"field": "i", "type": "quantitative"}}},
{"data": {"name": "pts"}, "transform": [{"filter": "datum.p == 'D'"}], "mark": {"type": "point", "shape": "circle", "size": 115, "strokeWidth": 1.1, "opacity": 1},
 "encoding": {
  "stroke": {"field": "rock", "type": "nominal", "scale": {"domain": ["Pyroxenite", "Jacupirangite", "Melteigite", "Ijolite", "Regolith"], "range": ["#4a90d9", "#f58dc4", "#52b034", "#ef7d2d", "#474747"]}, "legend": null},
  "fill": {"field": "rock", "type": "nominal", "scale": {"domain": ["Pyroxenite", "Jacupirangite", "Melteigite", "Ijolite", "Regolith"], "range": ["transparent", "transparent", "transparent", "transparent", "#474747"]}, "legend": null}
 }},
{"data": {"name": "labels"}, "transform": [{"filter": "datum.p == 'D' && datum.kind == 'letter'"}], "mark": {"type": "text", "fontSize": 28, "align": "left", "baseline": "alphabetic", "color": "#231f20"}, "encoding": {"text": {"field": "t"}}},
{"data": {"name": "labels"}, "transform": [{"filter": "datum.p == 'D' && datum.kind == 'site'"}], "mark": {"type": "text", "fontSize": 21, "fontWeight": "bold", "align": "right", "baseline": "alphabetic", "color": "#231f20"}, "encoding": {"text": {"field": "t"}}},
{"data": {"name": "labels"}, "transform": [{"filter": "datum.p == 'D' && datum.kind == 'bed'"}], "mark": {"type": "text", "fontSize": 22, "align": "left", "baseline": "alphabetic", "color": "#231f20"}, "encoding": {"text": {"field": "t"}}}
]
}
],
"config": {
"font": "DejaVu Sans",
"axis": {"domain": false, "grid": false, "ticks": true, "tickSize": -5, "tickColor": "#231f20", "tickWidth": 1, "labelFont": "DejaVu Sans", "labelFontSize": 20, "labelColor": "#231f20", "labelOverlap": false, "labelFlush": false, "titleFont": "DejaVu Sans", "titleFontSize": 21, "titleFontWeight": "normal", "titleColor": "#231f20"},
"axisX": {"labelPadding": 17, "titlePadding": 4},
"axisY": {"labelPadding": 8.5, "titlePadding": 6},
"legend": {"padding": 8, "strokeColor": "#231f20", "fillColor": "white", "labelFont": "DejaVu Sans", "labelFontSize": 20, "labelColor": "#231f20", "symbolSize": 90, "symbolStrokeWidth": 1.2, "symbolType": "circle", "rowPadding": 9, "labelOffset": 12}
}
}
